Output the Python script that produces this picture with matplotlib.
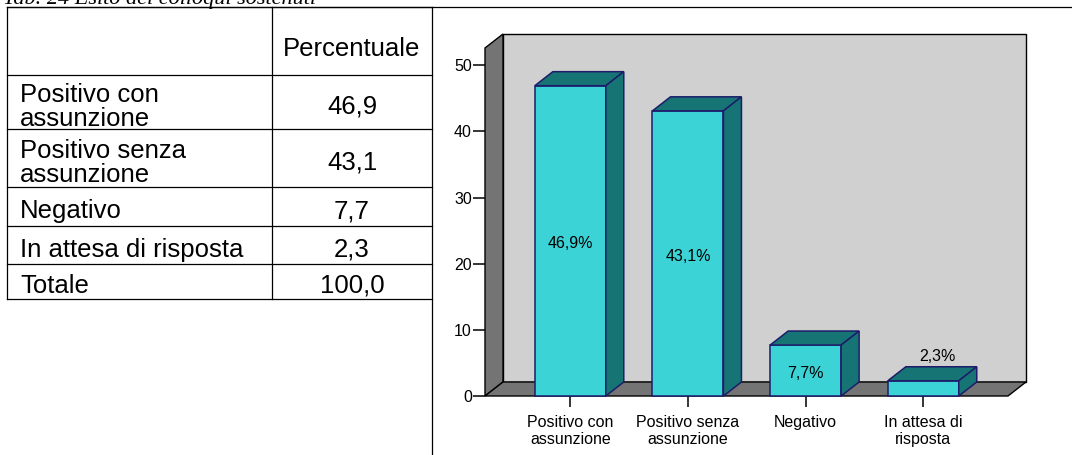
import matplotlib.pyplot as plt
from matplotlib import font_manager
from matplotlib.patches import Polygon, Rectangle

# data
categories = ['Positivo con\nassunzione', 'Positivo senza\nassunzione', 'Negativo', 'In attesa di\nrisposta']
values = [46.9, 43.1, 7.7, 2.3]
value_labels = ['46,9%', '43,1%', '7,7%', '2,3%']
yticks = [0, 10, 20, 30, 40, 50]

table_rows = ['Positivo con\nassunzione', 'Positivo senza\nassunzione', 'Negativo',
              'In attesa di risposta', 'Totale']
table_values = ['46,9', '43,1', '7,7', '2,3', '100,0']
title = 'Tab. 24 Esito dei colloqui sostenuti'

# fonts: narrow face if available
names = {f.name for f in font_manager.fontManager.ttflist}
if 'Liberation Sans Narrow' in names:
    chart_font, chart_size = 'Liberation Sans Narrow', 13.5
else:
    chart_font, chart_size = 'Liberation Sans', 11.5

cyan = '#3BD3D6'
teal = '#177474'
navy = '#1C1C6B'
wall = '#D0D0D0'
dark = '#747474'

fig = plt.figure(figsize=(10.72, 4.55), dpi=100)

# page overlay (pixel coords) for title, rules and table
bg = fig.add_axes([0, 0, 1, 1])
bg.set_xlim(0, 1072)
bg.set_ylim(455, 0)
bg.axis('off')

# title sits partly above the page edge, as in the scanned original
bg.text(3, 4, title, fontsize=16, fontstyle='italic', family='Liberation Serif',
        ha='left', va='baseline')
bg.plot([7, 1072], [7, 7], color='black', lw=0.9)
bg.plot([432, 432], [7, 455], color='black', lw=0.9)

row_edges = [7, 75, 129, 187, 226, 264, 299]
for y in row_edges:
    bg.plot([7, 432], [y, y], color='black', lw=0.9)
for x in [7, 272]:
    bg.plot([x, x], [7, 299], color='black', lw=0.9)

tfont = dict(family='Liberation Sans', fontsize=18.5)
bg.text(352, 47, 'Percentuale', ha='center', va='center_baseline', **tfont)
for i, (lab, val) in enumerate(zip(table_rows, table_values)):
    yc = (row_edges[i + 1] + row_edges[i + 2]) / 2 + 2
    bg.text(20, yc, lab, ha='left', va='center_baseline', linespacing=1.05, **tfont)
    bg.text(352, yc, val, ha='center', va='center_baseline', **tfont)

# 3D-look bar chart
ax = fig.add_axes([485 / 1072, (455 - 396) / 455, 523 / 1072, 348 / 455])
x0, x1 = -0.725, 3.72
ytop = 52.6
DX, DY = 0.153, 2.12
ax.set_xlim(x0, x1)
ax.set_ylim(0, ytop)
ax.patch.set_visible(False)
for s in ax.spines.values():
    s.set_visible(False)

# back wall, side wall, floor
ax.add_patch(Rectangle((x0 + DX, DY), x1 - x0, ytop, facecolor=wall, edgecolor='black',
                       lw=1.0, clip_on=False, zorder=1))
ax.add_patch(Polygon([(x0, 0), (x0, ytop), (x0 + DX, ytop + DY), (x0 + DX, DY)],
                     closed=True, facecolor=dark, edgecolor='black', lw=1.0, clip_on=False, zorder=1.5))
ax.add_patch(Polygon([(x0, 0), (x1, 0), (x1 + DX, DY), (x0 + DX, DY)],
                     closed=True, facecolor=dark, edgecolor='black', lw=1.0, clip_on=False, zorder=1.5))

xs = list(range(len(values)))
w = 0.603
ax.bar(xs, values, width=w, color=cyan, edgecolor=navy, linewidth=1.1, zorder=3, clip_on=False)
for i, v in zip(xs, values):
    r = i + w / 2
    l = i - w / 2
    ax.add_patch(Polygon([(l, v), (r, v), (r + DX, v + DY), (l + DX, v + DY)], closed=True,
                         facecolor=teal, edgecolor=navy, lw=1.1, zorder=3, clip_on=False))
    ax.add_patch(Polygon([(r, 0), (r, v), (r + DX, v + DY), (r + DX, DY)], closed=True,
                         facecolor=teal, edgecolor=navy, lw=1.1, zorder=3, clip_on=False))

for i, v, lab in zip(xs, values, value_labels):
    if v >= 5:
        ax.text(i, v / 2 - 0.4, lab, ha='center', va='center', family=chart_font,
                fontsize=chart_size, zorder=4)
    else:
        ax.text(i + DX * 0.8, v + DY + 1.5, lab, ha='center', va='center', family=chart_font,
                fontsize=chart_size, zorder=4)

ax.set_yticks(yticks)
ax.set_yticklabels([str(t) for t in yticks], family=chart_font, fontsize=chart_size)
ax.set_xticks(xs)
ax.set_xticklabels(categories, family=chart_font, fontsize=chart_size, linespacing=1.1)
ax.tick_params(axis='y', direction='out', length=8.5, width=1.1, pad=1)
ax.tick_params(axis='x', direction='out', length=8, width=1.1, pad=6)

fig.savefig('out.png', dpi=100)
